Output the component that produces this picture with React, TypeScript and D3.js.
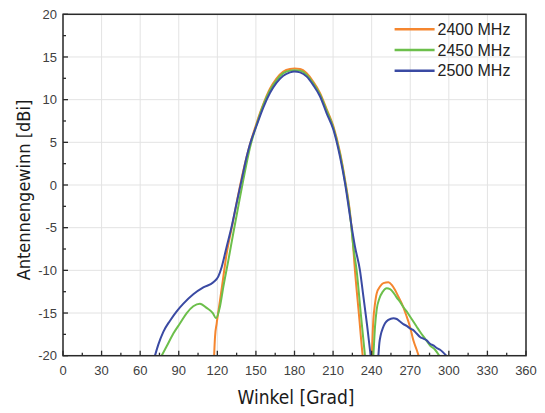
import React from "react";
import * as d3 from "d3";

const SERIES_NAMES = ["2400 MHz", "2450 MHz", "2500 MHz"];
const SERIES_COLORS = ["#f5862f", "#6cbf4b", "#3a4aa3"];

const ANGLE_2400 = [117.5,118.2,119.5,122.1,124.7,127.3,131.1,135.0,138.9,142.8,146.0,150.6,155.8,161.0,166.1,171.3,176.5,180.0,184.3,189.5,194.6,199.8,205.0,210.2,215.4,219.3,223.2,225.0,227.0,230.0,233.0,236.5,240.0,241.3,242.6,243.9,246.5,249.1,253.0,255.6,258.2,260.8,264.6,267.2,269.8,272.4,275.0,276.5];
const GAIN_2400 = [-20,-17.8,-16.2,-13.5,-10.7,-8.0,-5.1,-2.1,0.8,3.3,5.1,7.3,9.5,11.3,12.5,13.3,13.6,13.65,13.6,13.1,12.1,10.8,8.9,6.9,3.8,0.6,-3.3,-6.0,-10.0,-15.0,-20,-24,-20,-15.8,-13.9,-12.7,-11.9,-11.5,-11.4,-11.7,-12.3,-13.1,-14.3,-15.4,-16.6,-18.2,-19.3,-20];

const ANGLE_2450 = [76.7,80.6,85.8,91.0,96.2,101.3,106.5,111.7,116.5,119.0,122.1,124.7,128.6,132.4,136.3,140.2,145.4,150.6,155.8,161.0,166.1,171.3,176.5,180.0,184.3,189.5,194.6,199.8,205.0,210.2,215.4,219.3,223.2,225.8,228.3,231.5,234.8,238.0,241.3,242.6,243.9,246.0,248.6,251.7,254.3,256.9,259.5,262.1,264.6,267.2,269.8,272.4,275.0,277.6,281.5,285.4,289.3,292.6];
const GAIN_2450 = [-20,-18.9,-17.4,-16.2,-15.0,-14.2,-13.9,-14.4,-15.0,-15.6,-14.2,-11.9,-8.8,-5.65,-2.5,0.6,4.4,7.1,9.4,11.1,12.3,13.1,13.4,13.45,13.4,12.9,11.9,10.6,8.7,6.7,3.6,0.4,-3.5,-7.3,-10.0,-15.0,-20,-24,-20,-16.6,-14.6,-13.3,-12.5,-12.1,-12.2,-12.6,-13.2,-13.7,-14.3,-14.8,-15.4,-16.0,-16.6,-17.2,-18.0,-18.8,-19.3,-20];

const ANGLE_2500 = [71.5,74.1,78.0,83.2,88.4,93.6,101.3,109.1,116.9,120.8,123.4,127.3,131.1,135.0,138.9,142.8,145.4,150.6,155.8,161.0,166.1,171.3,176.5,179.9,184.3,189.5,194.6,199.8,205.0,210.2,215.4,219.3,223.2,227.0,230.9,233.5,236.5,239.2,242.0,245.2,246.0,247.0,248.6,250.4,253.0,256.9,259.5,262.1,264.6,267.2,269.8,272.4,275.0,277.6,280.2,282.8,285.4,288.0,290.6,293.2,298.0];
const GAIN_2500 = [-20,-18.7,-17.2,-15.9,-14.8,-13.9,-12.8,-12.0,-11.4,-10.7,-9.6,-7.2,-4.9,-2.1,0.6,3.3,4.8,7.0,9.1,10.8,12.0,12.8,13.2,13.3,13.2,12.7,11.7,10.4,8.4,6.5,3.3,0.2,-3.7,-7.2,-10.0,-13.0,-16.5,-20,-24,-20,-18.5,-17.6,-16.8,-16.2,-15.8,-15.6,-15.7,-16.0,-16.3,-16.5,-16.8,-17.0,-17.4,-17.8,-18.0,-18.2,-18.6,-18.8,-19.1,-19.3,-20];

const X_TICKS = [0, 30, 60, 90, 120, 150, 180, 210, 240, 270, 300, 330, 360];
const X_MINOR = [15, 45, 75, 105, 135, 165, 195, 225, 255, 285, 315, 345];
const Y_TICKS = [-20, -15, -10, -5, 0, 5, 10, 15, 20];
const Y_MINOR = [-17.5, -12.5, -7.5, -2.5, 2.5, 7.5, 12.5, 17.5];

const X_TITLE = "Winkel [Grad]";
const Y_TITLE = "Antennengewinn [dBi]";

const SERIES = [
  { angles: ANGLE_2400, gains: GAIN_2400 },
  { angles: ANGLE_2450, gains: GAIN_2450 },
  { angles: ANGLE_2500, gains: GAIN_2500 },
];

export default function App() {
  const W = 545, H = 413;
  const left = 63, right = 526, top = 14.3, bottom = 355.7;
  const x = d3.scaleLinear().domain([0, 360]).range([left, right]);
  const y = d3.scaleLinear().domain([-20, 20]).range([bottom, top]);
  const line = d3
    .line<[number, number]>()
    .x((d) => x(d[0]))
    .y((d) => y(d[1]))
    .curve(d3.curveMonotoneX);

  const labelFont = "'Liberation Sans', Arial, sans-serif";
  const titleFont = "'Liberation Sans Narrow', 'DejaVu Sans Condensed', 'Liberation Sans', sans-serif";

  return (
    <svg width={W} height={H} style={{ position: "absolute", left: 0, top: 0, background: "#fff" }}>
      <defs>
        <clipPath id="plotClip">
          <rect x={left} y={top} width={right - left} height={bottom - top} />
        </clipPath>
      </defs>
      <rect x={0} y={0} width={W} height={H} fill="#fff" />
      {X_TICKS.map((t) => (
        <line key={"gx" + t} x1={x(t)} x2={x(t)} y1={top} y2={bottom} stroke="#e3e3e3" strokeWidth={1} />
      ))}
      {Y_TICKS.map((t) => (
        <line key={"gy" + t} x1={left} x2={right} y1={y(t)} y2={y(t)} stroke="#e3e3e3" strokeWidth={1} />
      ))}
      <g clipPath="url(#plotClip)">
        {SERIES.map((s, i) => (
          <path
            key={SERIES_NAMES[i]}
            d={line(s.angles.map((a, j) => [a, s.gains[j]] as [number, number])) || ""}
            fill="none"
            stroke={SERIES_COLORS[i]}
            strokeWidth={2}
            strokeLinejoin="round"
          />
        ))}
      </g>
      <rect x={left} y={top} width={right - left} height={bottom - top} fill="none" stroke="#2a2a2a" strokeWidth={1.5} />
      {X_TICKS.map((t) => (
        <line key={"tx" + t} x1={x(t)} x2={x(t)} y1={bottom} y2={bottom - 5} stroke="#2a2a2a" strokeWidth={1.3} />
      ))}
      {X_MINOR.map((t) => (
        <line key={"mx" + t} x1={x(t)} x2={x(t)} y1={bottom} y2={bottom - 3} stroke="#2a2a2a" strokeWidth={1.3} />
      ))}
      {Y_TICKS.map((t) => (
        <line key={"ty" + t} x1={left} x2={left + 5} y1={y(t)} y2={y(t)} stroke="#2a2a2a" strokeWidth={1.3} />
      ))}
      {Y_MINOR.map((t) => (
        <line key={"my" + t} x1={left} x2={left + 3} y1={y(t)} y2={y(t)} stroke="#2a2a2a" strokeWidth={1.3} />
      ))}
      {X_TICKS.map((t) => (
        <text key={"lx" + t} x={x(t)} y={375} textAnchor="middle" fontFamily={labelFont} fontSize={13} fill="#404040">
          {t}
        </text>
      ))}
      {Y_TICKS.map((t) => (
        <text key={"ly" + t} x={57} y={y(t)} dy="0.35em" textAnchor="end" fontFamily={labelFont} fontSize={13} fill="#404040">
          {t}
        </text>
      ))}
      <text x={296} y={397} dy="0.35em" textAnchor="middle" fontFamily={titleFont} fontSize={19} fill="#1a1a1a">
        {X_TITLE}
      </text>
      <text
        transform={`translate(24, 190) rotate(-90)`}
        dy="0.35em"
        textAnchor="middle"
        fontFamily={titleFont}
        fontSize={18}
        fill="#1a1a1a"
      >
        {Y_TITLE}
      </text>
      {SERIES_NAMES.map((n, i) => {
        const ly = 29.3 + i * 20.7;
        return (
          <g key={"lg" + n}>
            <line x1={394.6} x2={434.6} y1={ly} y2={ly} stroke={SERIES_COLORS[i]} strokeWidth={2.5} />
            <text x={437.5} y={ly} dy="0.35em" fontFamily={labelFont} fontSize={16} fill="#222">
              {n}
            </text>
          </g>
        );
      })}
    </svg>
  );
}
